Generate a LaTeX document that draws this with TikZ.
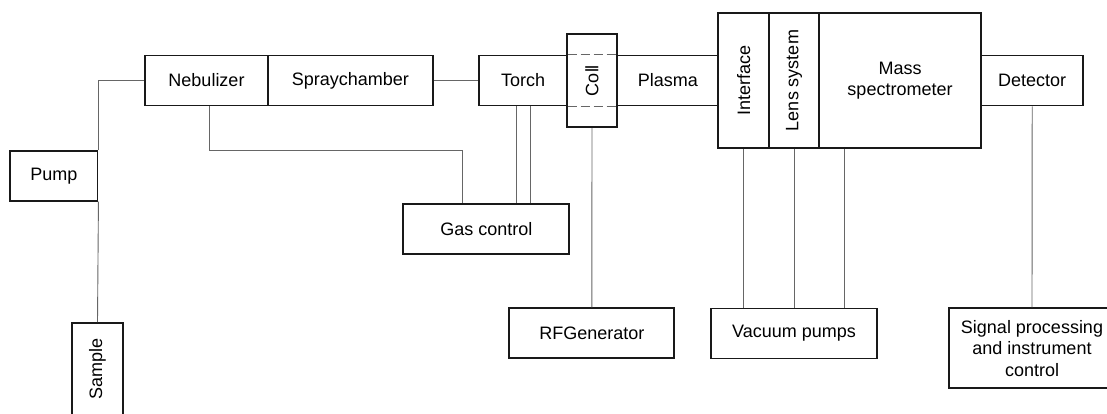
\documentclass[tikz,border=0pt]{standalone}
\usepackage{fontspec}
\setmainfont{Liberation Sans}

\begin{document}
\begin{tikzpicture}[x=1pt,y=-1pt,
    box/.style={draw=black!90,line width=1.9pt,fill=white,inner sep=0pt,
      align=center,font=\fontsize{18}{21.5}\selectfont},
    wire/.style={draw=black!60,line width=0.9pt}]
    \clip (0,0) rectangle (1107,414);
    % sample introduction
    \node[box,minimum width=87.2pt,minimum height=50pt] (pump) at (53.9,175.7) {Pump};
    \node[box,minimum width=50.4pt,minimum height=92pt] (sample) at (97.5,369) {\rotatebox{90}{Sample}};
    \node[box,minimum width=123pt,minimum height=50pt] (neb) at (206.5,80.5) {Nebulizer};
    \node[box,minimum width=164.7pt,minimum height=50pt] (spray) at (350.35,80.5) {Spraychamber};
    % torch, coil and plasma
    \node[box,minimum width=87.4pt,minimum height=50pt] (torch) at (523,80.5) {Torch};
    \node[box,minimum width=101pt,minimum height=50pt] (plasma) at (667.8,80.5) {Plasma};
    \node[box,minimum width=50.6pt,minimum height=93.4pt] (coil) at (592,80.5) {\rotatebox{90}{Coll}};
    \draw[wire,dash pattern=on 9pt off 4pt] (torch.north east) -- (plasma.north west);
    \draw[wire,dash pattern=on 9pt off 4pt] (torch.south east) -- (plasma.south west);
    % spectrometer
    \node[box,minimum width=50.7pt,minimum height=135.6pt] (iface) at (743.65,80.5) {\rotatebox{90}{Interface}};
    \node[box,minimum width=50pt,minimum height=135.6pt] (lens) at (794,80.5) {\rotatebox{90}{Lens system}};
    \node[box,minimum width=162pt,minimum height=135.6pt] (ms) at (900,80.5) {Mass\\spectrometer};
    \node[box,minimum width=102.3pt,minimum height=50pt] (det) at (1032.2,80.5) {Detector};
    % supplies
    \node[box,minimum width=166pt,minimum height=50pt] (gas) at (486.3,229.3) {Gas control};
    \node[box,minimum width=165pt,minimum height=50pt] (rf) at (591.8,333.3) {RFGenerator};
    \node[box,minimum width=166.4pt,minimum height=50pt] (vac) at (794,333.5) {Vacuum pumps};
    \node[box,minimum width=166pt,minimum height=80pt] (sig) at (1032,348.3) {Signal processing\\and instrument\\control};
    % connections
    \draw[wire] (neb.west) -| (pump.north east);
    \draw[wire] (pump.south east) -- (sample.north);
    \draw[wire] ([xshift=2.5pt]neb.south) -- ++(0,44.5) -| ([xshift=-24pt]gas.north);
    \draw[wire] (spray.east) -- (torch.west);
    \foreach \dx in {-6.3,7}
      \draw[wire] ([xshift=\dx pt]torch.south) -- ([xshift=\dx pt]torch.south |- gas.north);
    \draw[wire] (coil.south) -- (rf.north);
    \draw[wire] (iface.south) -- (iface.south |- vac.north);
    \draw[wire] (lens.south) -- (vac.north);
    \draw[wire] ([xshift=50pt]vac.north) -- ([xshift=50pt]vac.north |- ms.south);
    \draw[wire] (det.south) -- (sig.north);
\end{tikzpicture}
\end{document}
